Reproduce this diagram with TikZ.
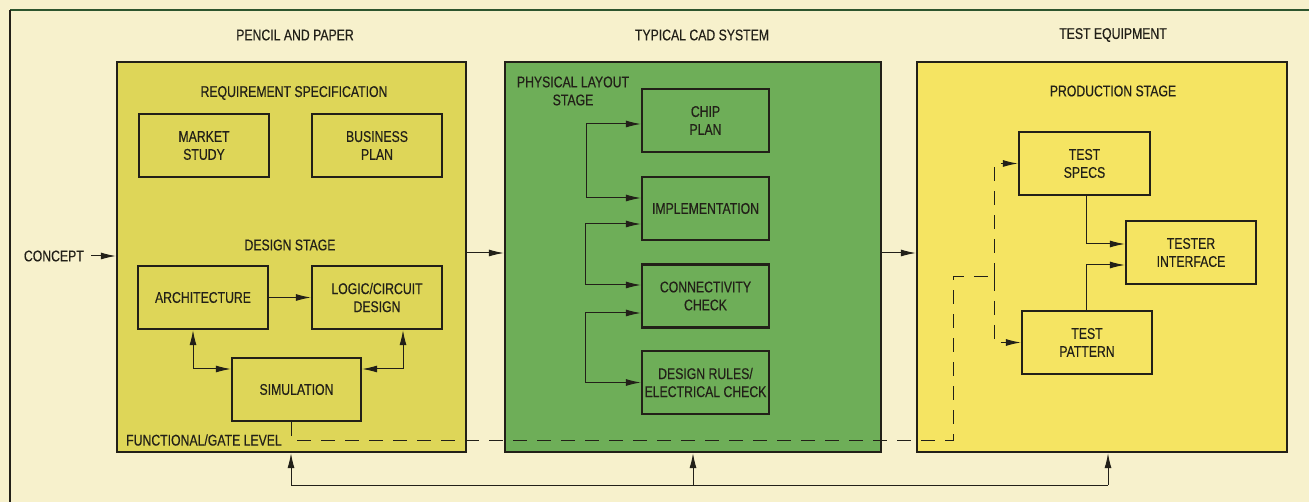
\documentclass[tikz,border=0pt]{standalone}
\usepackage{fontspec}
\setmainfont{Liberation Sans}[FakeStretch=0.79,FakeBold=0.4]
\usetikzlibrary{arrows.meta,calc}
\definecolor{cream}{RGB}{247,241,204}
\definecolor{olivey}{RGB}{222,214,88}
\definecolor{cadgreen}{RGB}{110,174,88}
\definecolor{prodyel}{RGB}{245,228,98}
\definecolor{ink}{RGB}{34,32,24}
\definecolor{framegreen}{RGB}{45,85,45}
\begin{document}
\begin{tikzpicture}[x=1pt,y=-1pt,
  txt/.style={text=ink,font=\fontsize{15.5}{18}\selectfont,align=center,inner sep=0pt},
  box/.style={draw=ink,line width=2.4pt,txt,minimum width=130pt,minimum height=63pt},
  panel/.style={draw=ink,line width=2.4pt,minimum height=390pt,inner sep=0pt},
  conn/.style={draw=ink,line width=1pt},
  tip/.style={-{Latex[length=15pt,width=7pt]}},
  arr/.style={conn,tip},
  darr/.style={conn,{Latex[length=15pt,width=7pt]}-{Latex[length=15pt,width=7pt]}},
  dashln/.style={conn,dash pattern=on 14pt off 10pt}
]
\useasboundingbox (0,0) rectangle (1309,502);
\fill[cream] (0,0) rectangle (1309,502);
\draw[framegreen,line width=2pt] (10,10) -- (1309,10);
\draw[ink,line width=2pt] (10,10) -- (10,502);

% panels
\node[panel,fill=olivey,minimum width=349pt] (lp) at (291.5,257) {};
\node[panel,fill=cadgreen,minimum width=376pt] (mp) at (693,257) {};
\node[panel,fill=prodyel,minimum width=370pt] (rp) at (1102,257) {};

% headings
\node[txt] (h1) at (295,35) {PENCIL AND PAPER};
\node[txt] (h2) at (702,35) {TYPICAL CAD SYSTEM};
\node[txt] (h3) at (1113,35) {TEST EQUIPMENT};

% left panel
\node[txt] (req) at (294,93) {REQUIREMENT SPECIFICATION};
\node[box] (ms) at (204,145.5) {MARKET\\STUDY};
\node[box] (bp) at (377,145.5) {BUSINESS\\PLAN};
\node[txt] (ds) at (290,245) {DESIGN STAGE};
\node[box] (arch) at (203,297.5) {ARCHITECTURE};
\node[box] (logic) at (377,297.5) {LOGIC/CIRCUIT\\DESIGN};
\node[box,minimum width=129pt] (sim) at (296.5,389.5) {SIMULATION};
\node[txt,anchor=west] (fgl) at (126,440) {FUNCTIONAL/GATE LEVEL};
\node[txt,anchor=east] (concept) at (84,256) {CONCEPT};

% middle panel
\node[txt] (pls) at (573,91) {PHYSICAL LAYOUT\\STAGE};
\node[box,minimum width=127pt] (chip) at (705.5,120.5) {CHIP\\PLAN};
\node[box,minimum width=127pt] (impl) at (705.5,208.5) {IMPLEMENTATION};
\node[box,minimum width=127pt] (con) at (705.5,296) {CONNECTIVITY\\CHECK};
\node[box,minimum width=127pt] (drc) at (705.5,382.5) {DESIGN RULES/\\ELECTRICAL CHECK};

% right panel
\node[txt] (ps) at (1113,91) {PRODUCTION STAGE};
\node[box,minimum width=131pt] (specs) at (1084.5,163.5) {TEST\\SPECS};
\node[box] (tester) at (1191,252.5) {TESTER\\INTERFACE};
\node[box] (pattern) at (1087,342.5) {TEST\\PATTERN};

% connectors, left
\draw[arr] ([xshift=7pt]concept.east) -- (concept.east -| lp.west);
\draw[arr] (arch) -- (logic);
\draw[darr] ([yshift=20.5pt]sim.west) -| ([xshift=-10pt]arch.south);
\draw[darr] ([yshift=20.5pt]sim.east) -| ([xshift=26pt]logic.south);

% between panels
\draw[arr] ([yshift=4pt]lp.east) -- ([yshift=4pt]mp.west);
\draw[arr] ([yshift=4pt]mp.east) -- ([yshift=4pt]rp.west);

% middle connectors
\draw[darr] ([yshift=-3.5pt]chip.west) -| ([xshift=-54pt,yshift=10.5pt]impl.west) -- ([yshift=10.5pt]impl.west);
\draw[darr] ([yshift=-15.5pt]impl.west) -| ([xshift=-55pt,yshift=11pt]con.west) -- ([yshift=11pt]con.west);
\draw[darr] ([yshift=-17pt]con.west) -| ([xshift=-55pt]drc.west) -- (drc.west);

% right connectors
\draw[arr] ([xshift=1.5pt]specs.south) |- ([yshift=8.5pt]tester.west);
\draw[arr] ([xshift=-1pt]pattern.north) |- ([yshift=-12.5pt]tester.west);

% dashed line
\coordinate (d1) at (953,440);
\coordinate (d2) at (994,277);
\draw[dashln] ([xshift=-5.5pt]sim.south) |- (d1) |- (d2);
\draw[dashln,tip] (d2) |- (specs.west);
\draw[dashln,tip] (d2) |- (pattern.west);

% feedback line
\coordinate (fbL) at (291,485);
\coordinate (fbR) at (1108,485);
\draw[conn] (fbL) -- (fbR);
\draw[arr] (fbL) -- (fbL |- lp.south);
\draw[arr] (mp.south |- fbL) -- (mp.south);
\draw[arr] (fbR) -- (fbR |- rp.south);
\end{tikzpicture}
\end{document}
